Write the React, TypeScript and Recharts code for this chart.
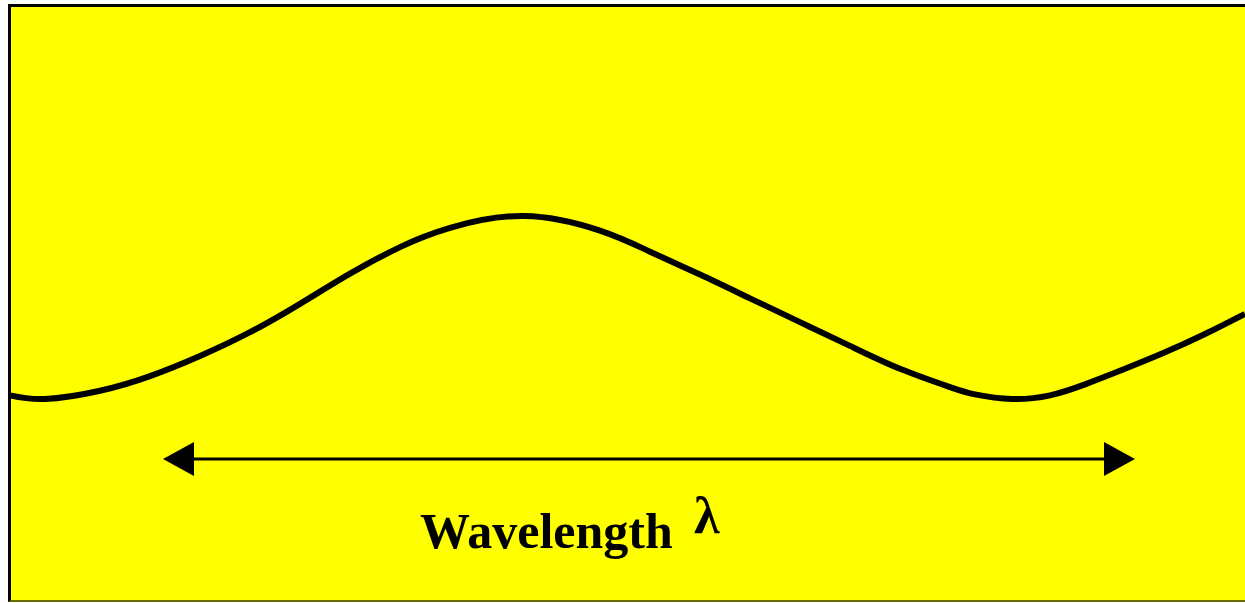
import React from "react";
import { LineChart, Line, XAxis, YAxis, ReferenceLine } from "recharts";

// distance along the wave (arbitrary units) and displacement
const distance = [0, 0.35, 0.9, 1.4, 1.9, 2.4, 2.9, 3.4, 3.9, 4.4, 5.14, 5.9, 6.4, 6.9, 7.4, 7.9, 8.4, 8.9, 9.4, 9.65, 10.02, 10.4, 10.75, 11.15, 11.55, 11.95, 12.35];
const displacement = [-0.96, -1.0, -0.91, -0.75, -0.53, -0.27, 0.04, 0.37, 0.66, 0.87, 1.0, 0.84, 0.61, 0.36, 0.1, -0.16, -0.42, -0.67, -0.87, -0.95, -1.0, -0.96, -0.84, -0.67, -0.49, -0.29, -0.07];

const arrowStart = 1.53;
const arrowEnd = 11.25;
const arrowLevel = -1.656;
const labelText = "Wavelength";
const symbolText = "λ";

const data = distance.map((d, i) => ({ d, y: displacement[i] }));

const ArrowShape = (props: any) => {
  const { x1, y1, x2, y2 } = props;
  const X1 = Number(x1), Y1 = Number(y1), X2 = Number(x2), Y2 = Number(y2);
  const head = 31;
  const half = 17;
  return (
    <g>
      <line x1={X1 + head} y1={Y1} x2={X2 - head} y2={Y2} stroke="#000" strokeWidth={3} />
      <polygon points={`${X1},${Y1} ${X1 + head},${Y1 - half} ${X1 + head},${Y1 + half}`} fill="#000" />
      <polygon points={`${X2},${Y2} ${X2 - head},${Y2 - half} ${X2 - head},${Y2 + half}`} fill="#000" />
      <text x={X1 + 257} y={Y1 + 89} fontFamily="'Liberation Serif', 'Times New Roman', serif" fontWeight="bold" fontSize={50} fill="#000">{labelText}</text>
      <text x={X1 + 531} y={Y1 + 74} fontFamily="'Liberation Serif', 'Times New Roman', serif" fontWeight="bold" fontSize={52} fill="#000">{symbolText}</text>
    </g>
  );
};

export default function App() {
  return (
    <div style={{ position: "absolute", left: 0, top: 0, width: 1245, height: 603 }}>
      <div
        style={{
          position: "absolute",
          left: 8,
          top: 4,
          width: 1237,
          height: 598,
          boxSizing: "border-box",
          background: "#ffff00",
          borderLeft: "3px solid #000",
          borderTop: "3px solid #000",
          borderBottom: "2px solid #6b6b00",
        }}
      />
      <div style={{ position: "absolute", left: 0, top: 0 }}>
        <LineChart width={1245} height={603} data={data} margin={{ top: 5, right: 0, bottom: 2, left: 10 }}>
          <XAxis dataKey="d" type="number" domain={[0, 12.35]} hide />
          <YAxis type="number" domain={[-3.208, 3.306]} hide />
          <Line type="natural" dataKey="y" stroke="#000" strokeWidth={6} dot={false} isAnimationActive={false} />
          <ReferenceLine
            segment={[{ x: arrowStart, y: arrowLevel }, { x: arrowEnd, y: arrowLevel }]}
            shape={ArrowShape}
            ifOverflow="visible"
          />
        </LineChart>
      </div>
    </div>
  );
}
